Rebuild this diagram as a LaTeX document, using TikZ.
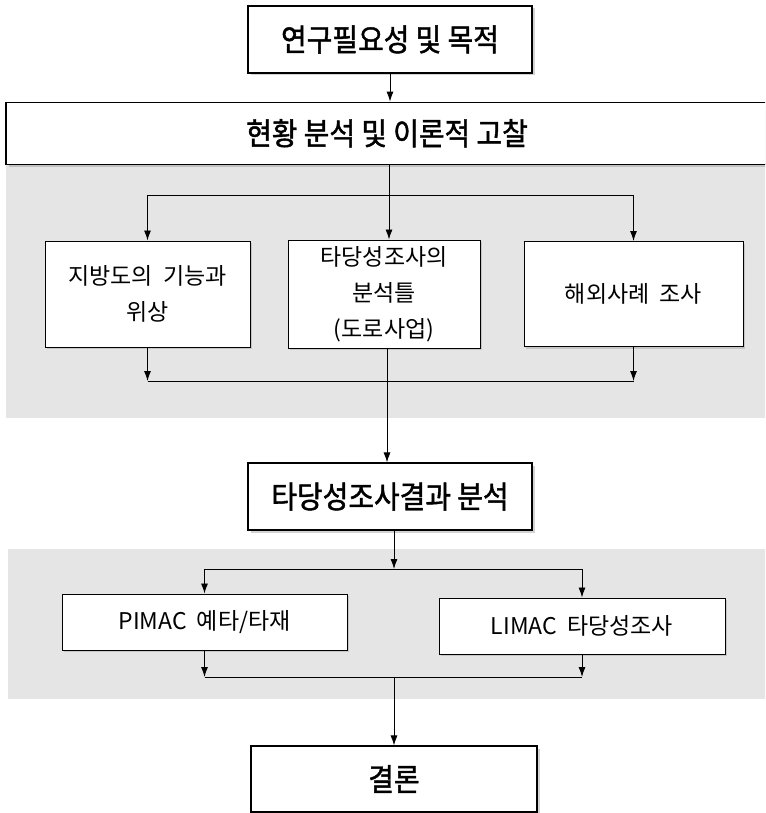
\documentclass[tikz,border=0pt]{standalone}
\usepackage{fontspec}
\setmainfont{Noto Sans CJK KR}
\newfontfamily\krthin[WordSpace=2]{Noto Sans CJK KR}
\newfontfamily\krhead[FakeBold=1.4, FakeStretch=0.9]{Noto Sans CJK KR}
\usetikzlibrary{arrows.meta,positioning,shadows}
\definecolor{bandgray}{HTML}{E5E5E5}

\tikzset{
	headbox/.style={draw, line width=1.2pt, fill=white, minimum width=284pt, minimum height=67pt,
		font=\krhead\fontsize{31}{36}\selectfont,
		drop shadow={shadow xshift=2.5pt, shadow yshift=-2.5pt, opacity=0.35}},
	subbox/.style={draw, line width=1pt, fill=white, align=center,
		font=\krthin\fontsize{23}{36}\selectfont,
		drop shadow={shadow xshift=2pt, shadow yshift=-2pt, opacity=0.3}},
	flow/.style={-{Latex[length=10pt,width=7pt]}, line width=0.9pt},
}

\begin{document}
\begin{tikzpicture}[x=1pt,y=-1pt]
	\useasboundingbox (0,0) rectangle (765,813);
	\clip (0,0) rectangle (765,813);
	% gray bands
	\fill[bandgray] (6,163) rectangle (770,418);
	\fill[bandgray] (8,549) rectangle (770,699);

	\node[headbox] (aim) at (390,39.5) {연구필요성 및 목적};
	\node[headbox, minimum width=762pt, minimum height=62pt] (review) [below=28pt of aim, xshift=-3pt] {현황 분석 및 이론적 고찰};
	\node[subbox, minimum width=205pt, minimum height=106pt] (func) at (147.5,294) {지방도의 기능과\\위상};
	\node[subbox, minimum width=192pt, minimum height=108pt] (frame) [right=37pt of func] {타당성조사의\\분석틀\\(도로사업)};
	\node[subbox, minimum width=219pt, minimum height=105pt] (abroad) [right=43pt of frame] {해외사례 조사};
	\node[headbox] (result) at (390,496.5) {타당성조사결과 분석};
	\node[subbox, minimum width=285pt, minimum height=56pt] (pimac) at (204.5,622) {PIMAC\hspace{10pt}예타/타재};
	\node[subbox, minimum width=286pt, minimum height=56pt] (limac) [right=91pt of pimac, yshift=-4pt] {LIMAC\hspace{10pt}타당성조사};
	\node[headbox, minimum width=286pt, minimum height=66pt] (concl) at (394,779) {결론};

	\coordinate (split1) at (389,195);
	\coordinate (join1) at (387,381);
	\coordinate (split2) at (394,569);
	\coordinate (join2) at (394,677);

	\draw[flow] (aim.south) -- (aim.south |- review.north);
	\draw[flow] (review.south -| split1) -- (frame.north -| split1);
	\draw[flow] (split1) -| (func.north);
	\draw[flow] (split1) -| (abroad.north);
	\draw[flow] (func.south) -- (func.south |- join1);
	\draw[flow] (abroad.south) -- (abroad.south |- join1);
	\draw (func.south |- join1) -- (abroad.south |- join1);
	\draw[flow] (frame.south -| join1) -- (result.north -| join1);

	\draw[flow] (result.south -| split2) -- (split2);
	\draw (split2 -| pimac.north) -- (split2 -| limac.north);
	\draw[flow] (split2 -| pimac.north) -- (pimac.north);
	\draw[flow] (split2 -| limac.north) -- (limac.north);
	\draw[flow] (pimac.south) -- (pimac.south |- join2);
	\draw[flow] (limac.south) -- (limac.south |- join2);
	\draw (pimac.south |- join2) -- (limac.south |- join2);
	\draw[flow] (join2) -- (concl.north -| join2);
\end{tikzpicture}
\end{document}
